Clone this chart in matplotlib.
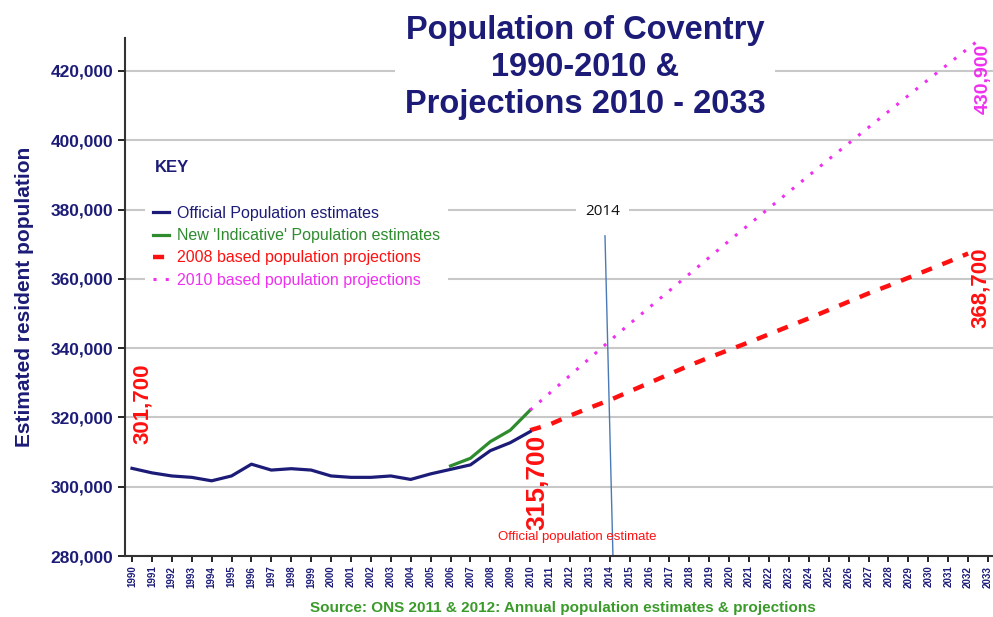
import matplotlib
matplotlib.use("Agg")
import matplotlib.pyplot as plt
import matplotlib.ticker as ticker

# ---- data ----
official_years = list(range(1990, 2011))
official_pop = [305300, 304000, 303100, 302700, 301700, 303100, 306500, 304800,
                305200, 304800, 303100, 302700, 302700, 303100, 302100, 303700,
                305000, 306300, 310400, 312700, 315900]

indicative_years = [2006, 2007, 2008, 2009, 2010]
indicative_pop = [306000, 308200, 313000, 316300, 322100]

proj2008_years = list(range(2010, 2033))
proj2008_pop = [316300, 318000, 320500, 322800, 325000, 327500, 330000, 332500,
                335000, 337300, 339500, 341700, 344000, 346300, 348600, 351000,
                353400, 355800, 358000, 360300, 362600, 364900, 367300]

proj2010_years = list(range(2010, 2034))
proj2010_pop = [322100, 327100, 332100, 337100, 342100, 347000, 351800, 356600,
                361400, 366200, 371000, 375700, 380400, 385100, 389800, 394500,
                399100, 403700, 408300, 412900, 417500, 422000, 426500, 431000]

year_labels = [str(y) for y in range(1990, 2034)]
y_ticks = [280000, 300000, 320000, 340000, 360000, 380000, 400000, 420000]

NAVY  = "#1c1c78"
GREEN = "#2e8b2e"
RED   = "#ff1010"
MAG   = "#f030f0"
plt.rcParams["font.family"] = ["Liberation Sans", "DejaVu Sans"]

fig = plt.figure(figsize=(9.93, 6.17), dpi=100)
ax = fig.add_axes([125 / 993, 1 - 556 / 617, 1 - 125 / 993, (556 - 38) / 617])

ax.plot(official_years, official_pop, color=NAVY, lw=2.3, label="Official Population estimates", zorder=4)
ax.plot(indicative_years, indicative_pop, color=GREEN, lw=2.3, label="New 'Indicative' Population estimates", zorder=3)
ax.plot(proj2008_years, proj2008_pop, color=RED, lw=3.2, ls=(0, (2.5, 2.5)), label="2008 based population projections", zorder=3)
ax.plot(proj2010_years, proj2010_pop, color=MAG, lw=2.2, ls=(0, (1, 3)), label="2010 based population projections", zorder=3)

# 2014 marker line
ax.plot([2013.76, 2014.16], [372400, 280000], color="#4a7ab5", lw=1, zorder=2, clip_on=False)
ax.text(2013.65, 379500, "2014", ha="center", va="center", fontsize=11, color="#111111",
        family=["Open Sans", "DejaVu Sans"],
        bbox=dict(boxstyle="square,pad=0.6", fc="white", ec="none"), zorder=5)

ax.set_xlim(1989.65, 2033.25)
ax.set_ylim(280000, 429500)
ax.set_yticks(y_ticks)
ax.yaxis.set_major_formatter(ticker.FuncFormatter(lambda v, p: f"{int(v):,}"))
ax.set_xticks(range(1990, 2034))
ax.set_xticklabels(year_labels, rotation=90, fontsize=7, fontweight="bold", color=NAVY)
ax.tick_params(axis="y", labelsize=12.5, labelcolor=NAVY, length=5, width=1.2, direction="out")
ax.tick_params(axis="x", length=4, width=1.2, direction="out", pad=3)
for lbl in ax.get_yticklabels():
    lbl.set_fontweight("bold")
ax.grid(axis="y", color="#c8c8c8", lw=1.5, zorder=0)
ax.set_axisbelow(True)
ax.spines[["top", "right"]].set_visible(False)
for s in ["left", "bottom"]:
    ax.spines[s].set_linewidth(1.5)
    ax.spines[s].set_color("#333333")
ax.set_ylabel("Estimated resident population", fontsize=15, fontweight="bold", color=NAVY, labelpad=12)

# value annotations
ax.text(1990.55, 323900, "301,700", rotation=90, ha="center", va="center", color=RED,
        fontsize=16, fontweight="bold", zorder=6)
ax.text(2010.35, 301200, "315,700", rotation=90, ha="center", va="center", color=RED,
        fontsize=19, fontweight="bold", zorder=6)
ax.text(2032.6, 357500, "368,700", rotation=90, ha="center", va="center", color=RED,
        fontsize=16, fontweight="bold", zorder=6, clip_on=False)
ax.text(2032.75, 417700, "430,900", rotation=90, ha="center", va="center", color=MAG,
        fontsize=14, fontweight="bold", zorder=6, clip_on=False)
ax.text(2012.35, 285500, "Official population estimate", ha="center", va="center",
        color=RED, fontsize=9.5, zorder=6)

# legend
fig.text(155 / 993, 1 - 168 / 617, "KEY", fontsize=12, fontweight="bold", color=NAVY, va="center")
leg = ax.legend(loc="upper left", bbox_to_anchor=(137 / 993, 1 - 190 / 617),
                bbox_transform=fig.transFigure, fontsize=11.5, handlelength=1.0,
                handletextpad=0.5, labelspacing=0.45, frameon=True, fancybox=False,
                borderpad=0.5)
leg.get_frame().set_edgecolor("none")
leg.get_frame().set_facecolor("white")
leg.get_frame().set_alpha(1)
for txt, c in zip(leg.get_texts(), [NAVY, GREEN, RED, MAG]):
    txt.set_color(c)

# title
fig.text(585 / 993, 1 - 67 / 617, "Population of Coventry\n1990-2010 &\nProjections 2010 - 2033",
         ha="center", va="center", fontsize=23.5, fontweight="bold", color=NAVY,
         linespacing=1.25, bbox=dict(boxstyle="square,pad=0.3", fc="white", ec="none"))

fig.text(563 / 993, 1 - 608 / 617, "Source: ONS 2011 & 2012: Annual population estimates & projections",
         ha="center", va="center", fontsize=11, fontweight="bold", color="#3a9a2a")

fig.savefig("out.png", dpi=100)
